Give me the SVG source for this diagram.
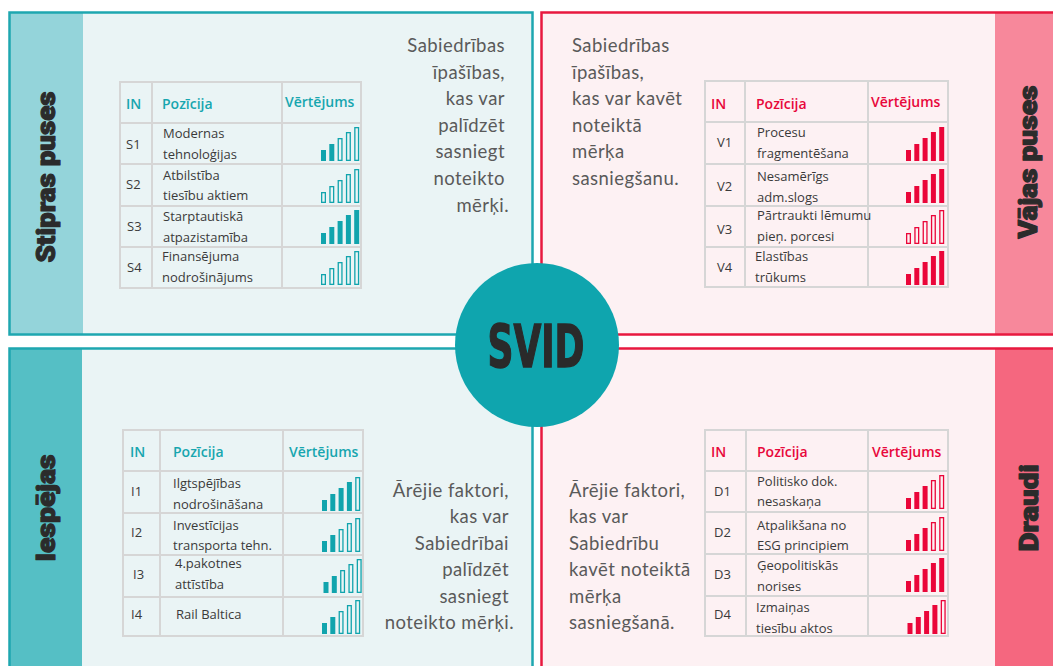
<svg xmlns="http://www.w3.org/2000/svg" xmlns:xlink="http://www.w3.org/1999/xlink" width="1053" height="666" viewBox="0 0 1053 666">
  <style>
    .side { font-family: Roboto, Lato, "Noto Sans", sans-serif; font-weight: 900; font-size: 25px; fill: #2b2b2b; stroke: #2b2b2b; stroke-width: 1.1; stroke-linejoin: round; }
    .note { font-family: Lato, "Open Sans", sans-serif; font-size: 18.5px; letter-spacing: 0.45px; fill: #5a5a5a; }
    .hd { font-family: "Open Sans", "Noto Sans", sans-serif; font-weight: 600; font-size: 14px; }
    .teal { fill: #17a6af; }
    .red { fill: #e8083b; }
    .cell { font-family: "Open Sans", "Noto Sans", sans-serif; font-size: 13px; fill: #3a3a3a; }
    .grid { stroke: #d6d6d6; stroke-width: 2; fill: none; }
    .title { font-family: "Liberation Sans Narrow", "DejaVu Sans Condensed", "Liberation Sans", sans-serif; font-weight: bold; font-size: 58px; fill: #2a2a2a; stroke: #2a2a2a; stroke-width: 1.4; }
  </style>
  <defs>
    <!-- signal-strength bars: N filled, rest outlined; colour comes from currentColor -->
    <g id="b0">
      <rect x="0.65" y="-10.35" width="3.7" height="9.7" fill="none" stroke="currentColor" stroke-width="1.3"/>
      <rect x="8.95" y="-16.35" width="3.7" height="15.7" fill="none" stroke="currentColor" stroke-width="1.3"/>
      <rect x="17.25" y="-22.35" width="3.7" height="21.7" fill="none" stroke="currentColor" stroke-width="1.3"/>
      <rect x="25.55" y="-28.35" width="3.7" height="27.7" fill="none" stroke="currentColor" stroke-width="1.3"/>
      <rect x="33.85" y="-33.35" width="3.7" height="32.7" fill="none" stroke="currentColor" stroke-width="1.3"/>
    </g>
    <g id="b2">
      <rect x="0" y="-11" width="5" height="11" fill="currentColor"/>
      <rect x="8.3" y="-17" width="5" height="17" fill="currentColor"/>
      <rect x="17.25" y="-22.35" width="3.7" height="21.7" fill="none" stroke="currentColor" stroke-width="1.3"/>
      <rect x="25.55" y="-28.35" width="3.7" height="27.7" fill="none" stroke="currentColor" stroke-width="1.3"/>
      <rect x="33.85" y="-33.35" width="3.7" height="32.7" fill="none" stroke="currentColor" stroke-width="1.3"/>
    </g>
    <g id="b3">
      <rect x="0" y="-11" width="5" height="11" fill="currentColor"/>
      <rect x="8.3" y="-17" width="5" height="17" fill="currentColor"/>
      <rect x="16.6" y="-23" width="5" height="23" fill="currentColor"/>
      <rect x="25.55" y="-28.35" width="3.7" height="27.7" fill="none" stroke="currentColor" stroke-width="1.3"/>
      <rect x="33.85" y="-33.35" width="3.7" height="32.7" fill="none" stroke="currentColor" stroke-width="1.3"/>
    </g>
    <g id="b4">
      <rect x="0" y="-11" width="5" height="11" fill="currentColor"/>
      <rect x="8.3" y="-17" width="5" height="17" fill="currentColor"/>
      <rect x="16.6" y="-23" width="5" height="23" fill="currentColor"/>
      <rect x="24.9" y="-29" width="5" height="29" fill="currentColor"/>
      <rect x="33.85" y="-33.35" width="3.7" height="32.7" fill="none" stroke="currentColor" stroke-width="1.3"/>
    </g>
    <g id="b5">
      <rect x="0" y="-11" width="5" height="11" fill="currentColor"/>
      <rect x="8.3" y="-17" width="5" height="17" fill="currentColor"/>
      <rect x="16.6" y="-23" width="5" height="23" fill="currentColor"/>
      <rect x="24.9" y="-29" width="5" height="29" fill="currentColor"/>
      <rect x="33.2" y="-34" width="5" height="34" fill="currentColor"/>
    </g>
  </defs>

  <rect x="0" y="0" width="1053" height="666" fill="#ffffff"/>

  <!-- Strengths -->
  <g id="strengths">
    <rect x="9.5" y="12.5" width="523" height="322" fill="#eaf4f5"/>
    <rect x="10" y="13" width="73" height="321" fill="#94d4da"/>
    <rect x="9.5" y="12.5" width="523" height="322" fill="none" stroke="#1ea7b0" stroke-width="2.5"/>
    <text class="side" transform="translate(55,177) rotate(-90)" text-anchor="middle" textLength="171" lengthAdjust="spacingAndGlyphs">Stipras puses</text>
    <g class="note" text-anchor="end">
      <text x="505" y="52">Sabiedrības</text>
      <text x="505" y="78.6">īpašības,</text>
      <text x="505" y="105.2">kas var</text>
      <text x="505" y="131.8">palīdzēt</text>
      <text x="505" y="158.4">sasniegt</text>
      <text x="505" y="185">noteikto</text>
      <text x="509" y="211.6">mērķi.</text>
    </g>
    <path class="grid" d="M120,82H361V288H120Z M120,123H361 M120,164H361 M120,206H361 M120,247H361 M152,82V288 M282,82V288"/>
    <text class="hd teal" x="126" y="109">IN</text>
    <text class="hd teal" x="162" y="108.5">Pozīcija</text>
    <text class="hd teal" x="285" y="107">Vērtējums</text>
    <g class="cell">
      <text x="126" y="148.5">S1</text>
      <text x="163" y="138">Modernas</text>
      <text x="163" y="158.5">tehnoloģijas</text>
      <text x="126" y="189">S2</text>
      <text x="163" y="179.5">Atbilstība</text>
      <text x="163" y="200">tiesību aktiem</text>
      <text x="127" y="231">S3</text>
      <text x="163" y="221">Starptautiskā</text>
      <text x="163" y="241.5">atpazistamība</text>
      <text x="127" y="271.5">S4</text>
      <text x="162" y="261">Finansējuma</text>
      <text x="162" y="281.5">nodrošinājums</text>
    </g>
    <g color="#11a4ad">
      <use xlink:href="#b2" transform="translate(321,161)"/>
      <use xlink:href="#b0" transform="translate(321,203)"/>
      <use xlink:href="#b5" transform="translate(321,244)"/>
      <use xlink:href="#b0" transform="translate(321,285)"/>
    </g>
  </g>

  <!-- Weaknesses -->
  <g id="weaknesses">
    <rect x="541.5" y="12.5" width="530" height="322" fill="#fdf1f3"/>
    <rect x="995" y="13" width="70" height="321" fill="#f7889b"/>
    <rect x="541.5" y="12.5" width="530" height="322" fill="none" stroke="#e8193f" stroke-width="2.5"/>
    <text class="side" transform="translate(1037,162) rotate(-90)" text-anchor="middle" textLength="153" lengthAdjust="spacingAndGlyphs">Vājas puses</text>
    <g class="note">
      <text x="572" y="52">Sabiedrības</text>
      <text x="572" y="78.6">īpašības,</text>
      <text x="572" y="105.2">kas var kavēt</text>
      <text x="572" y="131.8">noteiktā</text>
      <text x="572" y="158.4">mērķa</text>
      <text x="572" y="185">sasniegšanu.</text>
    </g>
    <path class="grid" d="M705,81H948V287H705Z M705,122H948 M705,164H948 M705,206H948 M705,247H948 M745,81V287 M868,81V287"/>
    <text class="hd red" x="711" y="108.5">IN</text>
    <text class="hd red" x="756" y="108.5">Pozīcija</text>
    <text class="hd red" x="871" y="107">Vērtējums</text>
    <g class="cell">
      <text x="717" y="147">V1</text>
      <text x="757" y="137">Procesu</text>
      <text x="757" y="157.5">fragmentēšana</text>
      <text x="717" y="190.5">V2</text>
      <text x="757" y="181">Nesamērīgs</text>
      <text x="757" y="202">adm.slogs</text>
      <text x="717" y="233.5">V3</text>
      <text x="757" y="219.5">Pārtraukti lēmumu</text>
      <text x="757" y="240.5">pieņ. porcesi</text>
      <text x="717" y="271.5">V4</text>
      <text x="755" y="261">Elastības</text>
      <text x="755" y="281.5">trūkums</text>
    </g>
    <g color="#ea0639">
      <use xlink:href="#b5" transform="translate(906,161)"/>
      <use xlink:href="#b5" transform="translate(906,203)"/>
      <use xlink:href="#b0" transform="translate(906,244)"/>
      <use xlink:href="#b5" transform="translate(906,285)"/>
    </g>
  </g>

  <!-- Opportunities -->
  <g id="opportunities">
    <rect x="9.5" y="348.5" width="523" height="330" fill="#eaf4f5"/>
    <rect x="10" y="349" width="72" height="330" fill="#55bfc5"/>
    <rect x="9.5" y="348.5" width="523" height="330" fill="none" stroke="#1ea7b0" stroke-width="2.5"/>
    <text class="side" transform="translate(55,508) rotate(-90)" text-anchor="middle" textLength="107" lengthAdjust="spacingAndGlyphs">Iespējas</text>
    <g class="note" text-anchor="end">
      <text x="509" y="496.5">Ārējie faktori,</text>
      <text x="509" y="523">kas var</text>
      <text x="509" y="549.6">Sabiedrībai</text>
      <text x="509" y="576.2">palīdzēt</text>
      <text x="509" y="602.8">sasniegt</text>
      <text x="514" y="629.4">noteikto mērķi.</text>
    </g>
    <path class="grid" d="M123,430H363V636H123Z M123,471H363 M123,513H363 M123,555H363 M123,597H363 M160,430V636 M283,430V636"/>
    <text class="hd teal" x="130" y="457">IN</text>
    <text class="hd teal" x="173" y="457">Pozīcija</text>
    <text class="hd teal" x="289" y="457">Vērtējums</text>
    <g class="cell">
      <text x="131" y="496">I1</text>
      <text x="173" y="488">Ilgtspējības</text>
      <text x="173" y="508.5">nodrošināšana</text>
      <text x="131" y="537">I2</text>
      <text x="173" y="529.5">Investīcijas</text>
      <text x="173" y="550">transporta tehn.</text>
      <text x="133" y="579">I3</text>
      <text x="175" y="568">4.pakotnes</text>
      <text x="175" y="589">attīstība</text>
      <text x="131" y="619">I4</text>
      <text x="176" y="619">Rail Baltica</text>
    </g>
    <g color="#11a4ad">
      <use xlink:href="#b4" transform="translate(322,511)"/>
      <use xlink:href="#b2" transform="translate(322,552)"/>
      <use xlink:href="#b2" transform="translate(323.5,593)"/>
      <use xlink:href="#b2" transform="translate(322,634)"/>
    </g>
  </g>

  <!-- Threats -->
  <g id="threats">
    <rect x="541.5" y="348.5" width="530" height="330" fill="#fdf1f3"/>
    <rect x="995" y="349" width="70" height="330" fill="#f5677f"/>
    <rect x="541.5" y="348.5" width="530" height="330" fill="none" stroke="#e8193f" stroke-width="2.5"/>
    <text class="side" transform="translate(1038,508) rotate(-90)" text-anchor="middle" textLength="87" lengthAdjust="spacingAndGlyphs">Draudi</text>
    <g class="note">
      <text x="569" y="496.5">Ārējie faktori,</text>
      <text x="569" y="523">kas var</text>
      <text x="569" y="549.6">Sabiedrību</text>
      <text x="569" y="576.2">kavēt noteiktā</text>
      <text x="569" y="602.8">mērķa</text>
      <text x="569" y="629.4">sasniegšanā.</text>
    </g>
    <path class="grid" d="M705,430H948V636H705Z M705,471H948 M705,512H948 M705,554H948 M705,596H948 M746,430V636 M868,430V636"/>
    <text class="hd red" x="711" y="457">IN</text>
    <text class="hd red" x="757" y="457">Pozīcija</text>
    <text class="hd red" x="872" y="457">Vērtējums</text>
    <g class="cell">
      <text x="714" y="496">D1</text>
      <text x="757" y="485.5">Politisko dok.</text>
      <text x="757" y="506">nesaskaņa</text>
      <text x="714" y="536.5">D2</text>
      <text x="757" y="529.5">Atpalikšana no</text>
      <text x="757" y="550">ESG principiem</text>
      <text x="714" y="579">D3</text>
      <text x="757" y="569.5">Ģeopolitiskās</text>
      <text x="757" y="590.5">norises</text>
      <text x="714" y="619">D4</text>
      <text x="756" y="612">Izmaiņas</text>
      <text x="756" y="633">tiesību aktos</text>
    </g>
    <g color="#ea0639">
      <use xlink:href="#b3" transform="translate(906,509)"/>
      <use xlink:href="#b3" transform="translate(906,551)"/>
      <use xlink:href="#b5" transform="translate(906,592)"/>
      <use xlink:href="#b4" transform="translate(907.5,634)"/>
    </g>
  </g>

  <!-- Centre badge -->
  <g id="svid">
    <circle cx="537" cy="345" r="82" fill="#0fa5ae"/>
    <text class="title" x="536" y="367" text-anchor="middle" textLength="97" lengthAdjust="spacingAndGlyphs">SVID</text>
  </g>
</svg>
